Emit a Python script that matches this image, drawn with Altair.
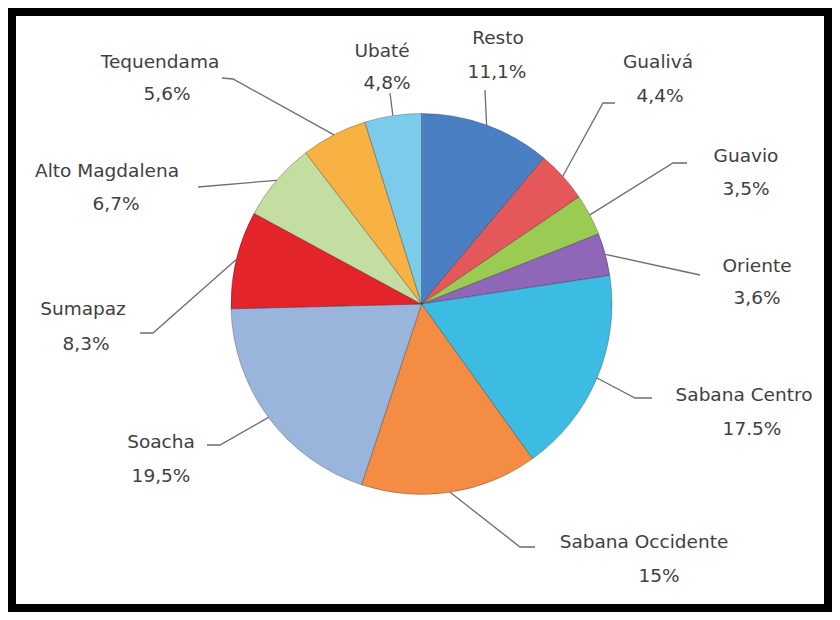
import math
import altair as alt
import pandas as pd

# ---------------- data ----------------
regions = ["Resto", "Gualivá", "Guavio", "Oriente", "Sabana Centro",
           "Sabana Occidente", "Soacha", "Sumapaz", "Alto Magdalena",
           "Tequendama", "Ubaté"]
shares = [11.1, 4.4, 3.5, 3.6, 17.5, 15.0, 19.5, 8.3, 6.7, 5.6, 4.8]
pct_labels = ["11,1%", "4,4%", "3,5%", "3,6%", "17.5%", "15%", "19,5%",
              "8,3%", "6,7%", "5,6%", "4,8%"]

# ---------------- styling / layout ----------------
colors = ["#4a7fc4", "#e4585a", "#9ccb53", "#8e67b8", "#3cbce3", "#f48d43",
          "#9ab5dc", "#e3242b", "#c4dda0", "#f8b143", "#7bcbea"]

PAGE = 8                      # page margin -> view origin
CX, CY, R = 421.5 - PAGE, 304 - PAGE, 190.5
W, H = 824, 604

# label anchors (page px): name centre x / baseline y, percent centre x / baseline y
name_pos = [(498, 44), (658, 68), (746, 162), (757, 272), (744, 401),
            (644, 548), (161, 448), (83, 315), (107, 177), (160, 68), (382, 57)]
pct_pos = [(497, 78), (660, 102), (746, 195), (757, 304), (752, 435),
           (659, 582), (161, 482), (86, 350), (116, 210), (167, 100), (387, 89)]
# leader line bends (page px), starting point is the slice edge
leader_pts = [
    [(485, 90)],
    [(603, 103), (615, 103)],
    [(673, 163), (687, 163)],
    [(700, 275)],
    [(635, 398), (652, 398)],
    [(520, 547), (535, 547)],
    [(220, 445), (207, 445)],
    [(153, 333), (140, 333)],
    [(198, 187)],
    [(233, 79), (222, 78)],
    [(390, 93)],
]

# ---------------- tables ----------------
pie_df = pd.DataFrame({"region": regions, "share": shares,
                       "idx": list(range(len(regions)))})

total = sum(shares)
cum = 0.0
line_rows = []
for i, (reg, s) in enumerate(zip(regions, shares)):
    mid = (cum + s / 2) / total * 2 * math.pi
    cum += s
    ex, ey = CX + R * math.sin(mid), CY - R * math.cos(mid)
    line_rows.append({"region": reg, "seq": 0, "px": ex, "py": ey})
    for k, (px, py) in enumerate(leader_pts[i]):
        line_rows.append({"region": reg, "seq": k + 1,
                          "px": px - PAGE, "py": py - PAGE})
line_df = pd.DataFrame(line_rows)

text_rows = []
for reg, pl, (nx, ny), (qx, qy) in zip(regions, pct_labels, name_pos, pct_pos):
    text_rows.append({"txt": reg, "px": nx - PAGE, "py": ny - PAGE})
    text_rows.append({"txt": pl, "px": qx - PAGE, "py": qy - PAGE})
text_df = pd.DataFrame(text_rows)

# ---------------- chart ----------------
pie = alt.Chart(pie_df).mark_arc(
    outerRadius=R, stroke="#000000", strokeOpacity=0.25, strokeWidth=1
).encode(
    theta=alt.Theta("share:Q", stack=True),
    color=alt.Color("region:N", scale=alt.Scale(domain=regions, range=colors),
                    legend=None),
    order=alt.Order("idx:Q"),
    x=alt.value(CX),
    y=alt.value(CY),
)

lines = alt.Chart(line_df).mark_line(color="#6e6e6e", strokeWidth=1.3).encode(
    x=alt.X("px:Q", scale=None, axis=None),
    y=alt.Y("py:Q", scale=None, axis=None),
    detail="region:N",
    order="seq:Q",
)

labels = alt.Chart(text_df).mark_text(
    font="DejaVu Sans", fontSize=18.5, color="#404040", align="center",
    baseline="alphabetic"
).encode(
    x=alt.X("px:Q", scale=None, axis=None),
    y=alt.Y("py:Q", scale=None, axis=None),
    text="txt:N",
)

frame = alt.Chart(pie_df).mark_rect(
    filled=False, stroke="black", strokeWidth=8
).encode(
    x=alt.value(4), x2=alt.value(W - 4), y=alt.value(4), y2=alt.value(H - 4)
)

chart = alt.layer(pie, lines, labels, frame).properties(
    width=W, height=H, padding=0,
    autosize=alt.AutoSizeParams(type="none"),
    background="white",
).configure_view(stroke=None)

chart.save("out.html", embed_options={"renderer": "svg", "actions": False})
